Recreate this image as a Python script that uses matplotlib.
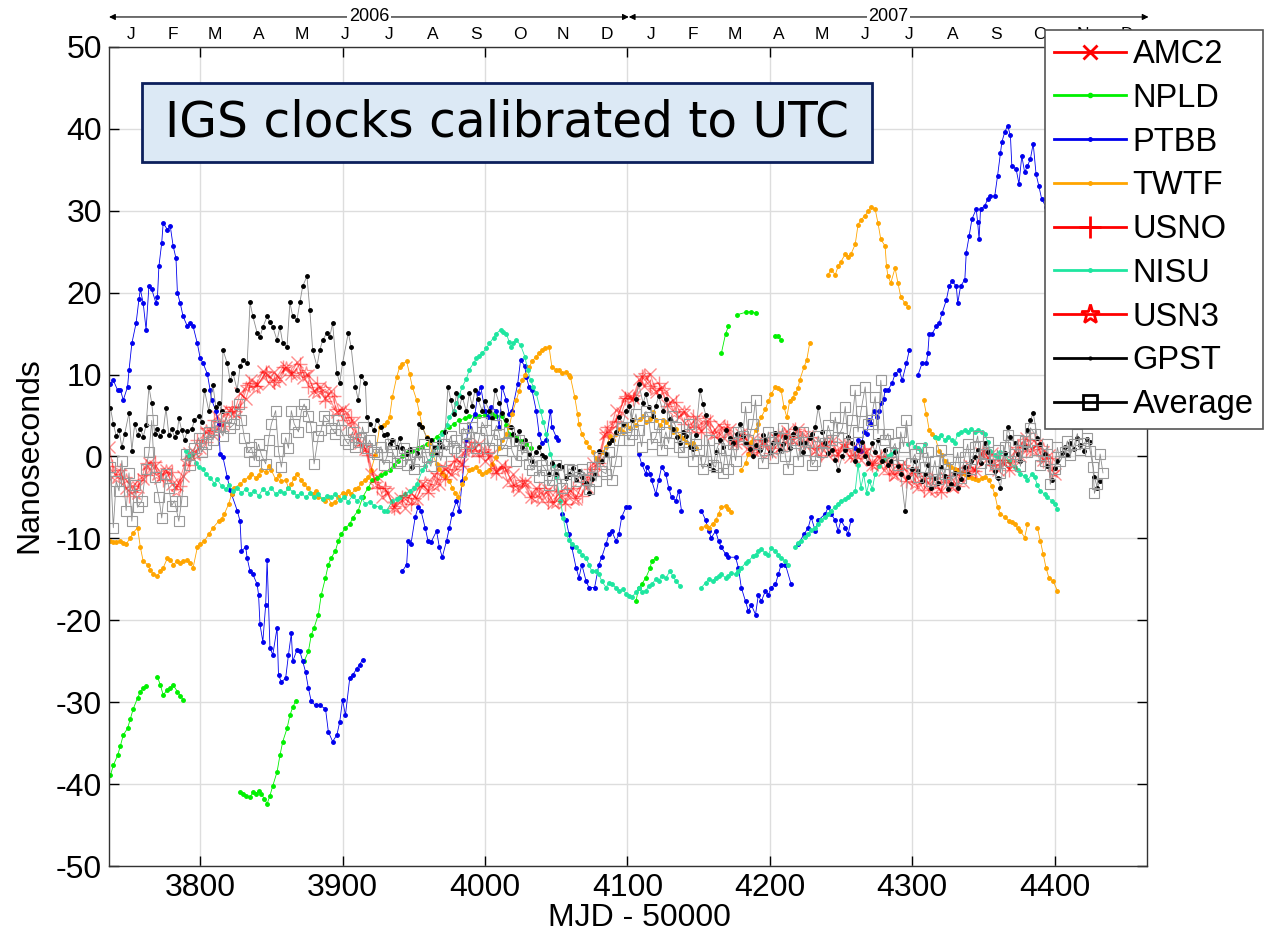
import numpy as np
import matplotlib
matplotlib.use("Agg")
import matplotlib.pyplot as plt
from matplotlib.lines import Line2D
from matplotlib.patches import Rectangle
import matplotlib.transforms as mtransforms

nan = np.nan

# ---- data (MJD - 50000, nanoseconds) ----
AMC2_DAY = list(range(3736, 4401, 4))
AMC2_NS = [1.1, -2.2, -2.2, -3.9, -3.6, -3.7, -2.8, -0.8, -1.2, -2.6, -1.6, -3.3, -3.5, -2.4, 0.4, 0.6,
           1.0, 3.0, 2.8, 4.9, 3.8, 5.5, 5.4, 7.7, 7.0, 9.3, 8.9, 10.4, 9.0, 10.3, 9.4, 10.9,
           10.1, 11.5, 9.6, 9.9, 8.0, 8.5, 7.1, 8.0, 5.4, 5.8, 4.0, 4.2, 1.7, 0.9, -2.1, -2.4,
           -4.9, -4.5, -6.2, -5.1, -6.3, -4.4, -5.2, -3.4, -4.2, -2.3, -3.3, -1.5, -2.2, -0.3, -0.9, 1.2,
           1.0, 1.5, -0.6, 0.2, -1.9, -1.1, -3.1, -2.2, -4.1, -3.1, -4.9, -3.9, -5.3, -4.1, -5.7, -4.4,
           -5.6, -4.1, -5.2, -3.4, -3.7, -0.8, -0.6, 2.7, 3.1, 5.7, 5.3, 7.5, 7.1, 9.4, 8.6, 10.1,
           7.9, 8.5, 6.3, 6.9, 4.8, 5.5, 3.5, 4.7, 3.1, 4.3, 2.8, 3.9, 2.3, 3.3, 1.6, 2.7,
           0.9, 2.1, 0.6, 1.8, 0.5, 2.3, 1.3, 3.1, 2.0, 3.3, 1.5, 2.5, 0.7, 1.7, 0.3, 1.9,
           0.3, 1.5, -0.1, 1.3, -0.4, 0.7, -1.0, 0.1, -1.7, -0.7, -2.3, -1.1, -2.9, -1.9, -3.7, -2.6,
           -4.2, -2.6, -4.2, -2.6, -3.7, -2.1, -3.1, -1.1, -1.7, 0.4, -0.4, 0.4, -1.7, -0.7, -1.5, 0.7,
           0.1, 2.2, 0.9, 1.5, -0.4, 0.2, -2.2]

USNO_DAY = list(range(3738, 4399, 6))
USNO_NS = [-1.2, -1.7, -4.8, -2.9, -2.3, -0.7, -2.9, -1.9, -3.6, -1.1, 2.0, 1.8, 4.4, 3.7, 6.1, 6.0,
           9.0, 8.6, 10.3, 9.1, 10.9, 9.9, 11.3, 8.5, 9.0, 6.8, 7.4, 4.5, 4.8, 1.4, 0.2, -3.8,
           -3.9, -6.3, -4.9, -5.8, -3.6, -4.4, -2.0, -2.8, -0.5, -1.2, 1.8, 0.0, 0.6, -2.0, -1.3, -3.6,
           -2.9, -5.0, -3.8, -5.6, -4.2, -5.8, -3.9, -4.8, -1.5, -0.8, 3.6, 4.3, 7.1, 7.0, 9.8, 8.6,
           9.0, 6.2, 6.6, 4.0, 4.9, 3.0, 4.3, 2.4, 3.6, 1.5, 2.6, 0.6, 2.0, 0.4, 2.6, 1.6,
           3.4, 1.4, 2.4, 0.2, 1.9, 0.2, 1.5, -0.2, 0.9, -1.1, 0.0, -2.2, -0.9, -3.0, -2.0, -4.1,
           -2.6, -4.3, -2.3, -3.6, -1.3, -1.8, 0.8, -1.1, -0.4, -1.6, 1.2, 0.7, 2.0, -0.5, -0.2]

USN3_DAY = list(range(3741, 4400, 7))
USN3_NS = [-2.6, -2.8, -4.6, -1.0, -2.3, -1.6, -4.2, -0.5, 0.2, 3.2, 3.0, 5.5, 5.3, 8.5, 8.4, 10.2,
           9.1, 10.9, 10.1, 10.3, 7.7, 8.2, 5.6, 5.5, 2.5, 1.0, -3.3, -3.9, -6.3, -4.9, -5.3, -3.1,
           -3.6, -1.3, -1.8, 0.7, 0.6, 0.7, -1.7, -1.4, -3.7, -3.2, -5.1, -4.1, -5.7, -4.3, -5.3, -2.8,
           -1.8, 2.7, 4.0, 7.1, 7.3, 10.0, 8.1, 8.1, 5.3, 5.5, 3.3, 4.4, 2.7, 3.7, 1.7, 2.5,
           0.7, 1.8, 0.8, 2.9, 2.0, 2.9, 0.8, 1.7, 0.5, 1.5, -0.1, 0.8, -1.1, -0.3, -2.3, -1.3,
           -3.4, -2.6, -4.1, -2.7, -3.7, -1.7, -1.9, 0.7, -1.2, -0.7, -0.9, 1.9, 0.7, 1.0, -1.9]

NPLD_DAY = [3737, 3739, 3742, 3744, 3746, 3749, 3751, 3753, 3756, 3758, 3760, 3762, 3765,
            3770, 3772, 3774, 3777, 3779, 3781, 3784, 3786, 3788, 3800,
            3828, 3830, 3832, 3835, 3837, 3839, 3841, 3843, 3845, 3847, 3849, 3851, 3854, 3856,
            3858, 3861, 3863, 3865, 3867, 3870,
            3873, 3876, 3878, 3880, 3883, 3885, 3888, 3890, 3892, 3895, 3897, 3899, 3902, 3905,
            3907, 3911, 3914, 3918, 3921, 3924, 3927, 3930, 3933, 3936, 3939, 3942, 3946, 3949,
            3953, 3956, 3959, 3963, 3966, 3970, 3975, 3978, 3982, 3986, 3989, 3993, 3996, 4000,
            4005, 4008, 4012, 4015, 4017, 4020, 4022, 4025, 4029, 4032, 4040,
            4106, 4108, 4110, 4113, 4116, 4117, 4120, 4140,
            4166, 4169, 4171, 4174, 4177, 4183, 4187, 4190, 4197, 4204, 4206, 4208]
NPLD_NS = [-38.9, -37.7, -36.5, -35.3, -34.0, -33.2, -32.0, -30.8, -29.5, -28.7, -28.3, -28.0, nan,
           -26.9, -27.9, -29.1, -28.5, -28.3, -27.9, -28.7, -29.2, -29.7, nan,
           -41.0, -41.2, -41.4, -41.6, -41.0, -41.2, -40.8, -41.2, -41.8, -42.4, -41.4, -40.2, -38.5, -36.5,
           -34.8, -33.2, -31.6, -30.6, -29.9, nan,
           -25.0, -23.8, -21.8, -20.9, -19.3, -16.9, -14.8, -13.2, -12.4, -11.5, -10.3, -9.5, -8.7, -8.3,
           -7.5, -6.6, -5.0, -3.8, -2.9, -2.6, -2.3, -2.0, -1.6, -1.0, -0.5, 0.0, 0.5, 0.7,
           1.0, 1.2, 1.5, 2.0, 2.4, 3.0, 3.6, 4.0, 4.4, 4.7, 4.9, 5.0, 4.9, 5.1,
           5.2, 5.0, 4.9, 3.8, 2.8, 2.6, 2.4, 1.9, 1.5, 1.0, nan,
           -17.7, -16.0, -15.6, -14.8, -13.6, -12.8, -12.4, nan,
           12.6, 15.0, 15.9, nan, 17.3, 17.6, 17.7, 17.5, nan, 14.7, 14.7, 14.2]

PTBB_DAY = [3737, 3739, 3742, 3744, 3746, 3749, 3750, 3752, 3755, 3757, 3758, 3760, 3762, 3764, 3766,
            3769, 3770, 3771, 3773, 3774, 3777, 3779, 3781, 3783, 3784, 3786, 3788, 3791, 3793, 3795,
            3798, 3800, 3802, 3805, 3807, 3808, 3811, 3813, 3814, 3816, 3819, 3821, 3822, 3826, 3828,
            3829, 3832, 3833, 3835, 3837, 3840, 3841, 3842, 3844, 3846, 3847, 3849, 3851, 3854, 3855,
            3857, 3860, 3862, 3864, 3865, 3868, 3870, 3872, 3874, 3876, 3878, 3881, 3884, 3888, 3890,
            3893, 3896, 3898, 3900, 3902, 3905, 3907, 3910, 3912, 3914, 3925,
            3942, 3945, 3946, 3948, 3951, 3953, 3955, 3958, 3960, 3962, 3966, 3968, 3970, 3973, 3975,
            3977, 3980, 3982, 3984, 3987, 3989, 3993, 3995, 3997, 4000, 4002, 4004, 4008, 4010, 4012,
            4015, 4017, 4019, 4023, 4025, 4028, 4029, 4031, 4033, 4036, 4038, 4040, 4043, 4046, 4047,
            4050, 4051, 4052,
            4054, 4057, 4059, 4061, 4064, 4066, 4068, 4071, 4073, 4077, 4080, 4082, 4085, 4087, 4089,
            4092, 4094, 4096, 4099, 4101, 4104,
            4108, 4110, 4113, 4114, 4116, 4117, 4120, 4122, 4124, 4127, 4129, 4131, 4134, 4136, 4138, 4145,
            4152, 4155, 4157, 4159, 4162, 4164, 4166, 4169, 4171, 4176, 4178, 4180, 4183, 4185, 4187,
            4190, 4192, 4194, 4197, 4199, 4201, 4204, 4206, 4208, 4211, 4215, 4217,
            4220, 4224, 4227, 4229, 4232, 4234, 4239, 4241, 4243, 4246, 4248, 4250, 4253, 4255, 4257, 4259,
            4260, 4262, 4264, 4266, 4268, 4270, 4271, 4273, 4275, 4277, 4278, 4280, 4281, 4283, 4286,
            4288, 4291, 4293, 4296, 4298, 4301,
            4304, 4307, 4310, 4311, 4312, 4314, 4317, 4319, 4321, 4324, 4326, 4328, 4331, 4332, 4334,
            4337, 4338, 4340, 4342, 4345, 4346, 4347, 4348, 4351, 4353, 4355, 4358, 4360, 4362, 4363,
            4365, 4367, 4369, 4370, 4373, 4375, 4377, 4379, 4381, 4383, 4385, 4387, 4389, 4391, 4394, 4397]
PTBB_NS = [8.9, 9.3, 8.1, 8.1, 6.9, 8.5, 10.5, 13.8, 16.3, 19.2, 20.4, 18.7, 15.5, 20.8, 20.4,
           18.7, 19.5, 23.2, 26.1, 28.5, 27.7, 28.1, 25.7, 24.2, 20.0, 18.7, 17.1, 15.9, 16.3, 15.9,
           13.8, 12.0, 11.4, 10.1, 8.1, 6.9, 5.6, 4.0, 0.3, -0.1, -2.5, -4.1, -4.6, -6.6, -7.9,
           -11.5, -11.1, -12.4, -14.0, -14.4, -15.6, -16.9, -20.5, -22.6, -18.1, -12.6, -23.4, -24.2, -20.9, -26.7,
           -27.5, -27.1, -24.2, -21.6, -25.0, -23.6, -23.8, -25.0, -26.3, -28.3, -29.9, -30.4, -30.4, -30.8, -33.6,
           -34.8, -34.0, -32.4, -29.7, -31.6, -27.1, -26.7, -25.9, -25.4, -24.8, nan,
           -14.0, -13.2, -10.3, -10.7, -7.4, -6.2, -6.6, -8.7, -10.3, -10.5, -9.1, -11.1, -12.3, -10.3, -8.7,
           -7.0, -5.4, -6.6, -3.0, 2.0, 3.6, 5.2, 7.7, 8.5, 5.6, 4.8, 6.0, 5.6, 3.6, 8.5,
           6.9, 5.2, 5.6, 8.9, 11.8, 11.0, 9.7, 8.5, 8.1, 5.6, 2.8, 1.6, 2.0, 5.6, 3.6,
           2.4, 2.0, nan,
           -7.0, -7.8, -9.5, -11.1, -13.6, -14.8, -13.2, -15.2, -16.0, -16.0, -13.2, -12.3, -10.7, -9.5, -9.1,
           -10.3, -9.5, -7.4, -6.2, -6.2, nan,
           0.3, -0.9, -2.1, -1.3, -2.1, -2.9, -4.6, -2.9, -1.3, -2.1, -3.8, -5.0, -5.4, -4.2, -6.6, nan,
           -6.6, -7.8, -9.1, -9.9, -9.1, -10.3, -11.1, -11.9, -12.3, -12.3, -13.6, -16.0, -17.7, -18.9, -18.1,
           -19.3, -16.9, -17.7, -16.4, -16.9, -16.0, -15.6, -14.4, -13.2, -13.2, -15.6, nan,
           -10.7, -9.5, -8.7, -7.4, -9.1, -7.8, -7.0, -6.2, -7.0, -7.8, -9.1, -7.8, -8.7, -9.5, -7.8, nan,
           1.0, 2.0, 0.7, 3.0, 2.8, 4.5, 4.0, 5.6, 4.8, 5.5, 6.5, 7.0, 8.1, 8.1, 9.0,
           10.1, 10.5, 9.3, 11.4, 13.0, nan,
           9.9, 11.4, 11.4, 12.6, 15.0, 15.0, 15.9, 16.3, 17.5, 19.1, 20.8, 21.4, 20.8, 18.7, 20.8,
           21.6, 24.9, 26.9, 29.0, 30.2, 28.6, 26.5, 30.2, 30.6, 31.4, 31.8, 31.8, 34.3, 37.1, 38.4,
           39.6, 40.4, 39.2, 35.5, 35.1, 33.3, 36.7, 34.7, 35.5, 36.3, 38.2, 34.5, 33.0, 31.4, 30.5, 29.0]

TWTF_DAY = [3737, 3739, 3741, 3744, 3746, 3748, 3751, 3753, 3756, 3758, 3760, 3763, 3765, 3767, 3770,
            3772, 3774, 3777, 3779, 3781, 3784, 3786, 3788, 3791, 3793, 3795, 3798, 3800, 3803, 3806,
            3809, 3813, 3815, 3817, 3820, 3822, 3824, 3828, 3831, 3834, 3836, 3839, 3841, 3843, 3846,
            3848, 3850, 3853, 3855, 3857, 3860, 3862, 3864, 3866, 3868, 3871, 3873, 3876, 3879, 3881,
            3883, 3886, 3888, 3890, 3892, 3895, 3897, 3900, 3902, 3904, 3906, 3909, 3911, 3913, 3916,
            3918, 3920, 3923, 3926, 3929, 3931, 3933, 3935, 3938, 3940, 3942, 3945, 3947, 3949, 3952,
            3954, 3956, 3959, 3961, 3963, 3966, 3968, 3970, 3972, 3975, 3977, 3979, 3981, 3984, 3986,
            3989, 3991, 3994, 3996, 3998, 4001, 4003, 4005, 4008, 4010, 4012, 4015, 4017, 4019, 4022,
            4024, 4026, 4028, 4031, 4033, 4036, 4038, 4040, 4042, 4045, 4047, 4050, 4052, 4054, 4057,
            4059, 4060, 4063, 4065, 4066, 4068, 4071, 4073, 4076, 4078, 4080, 4083, 4085, 4088, 4090,
            4092, 4095, 4097, 4099, 4102, 4104, 4106, 4109, 4111, 4113, 4116, 4118, 4120, 4123, 4125,
            4127, 4130, 4132, 4134, 4137, 4139, 4141, 4144, 4146, 4148, 4150,
            4152, 4155, 4157, 4160, 4162, 4164, 4166, 4169, 4171, 4173, 4176,
            4180, 4183, 4185, 4187, 4190, 4192, 4194, 4197, 4199, 4201, 4204, 4206, 4208, 4210, 4212,
            4214, 4216, 4218, 4220, 4221, 4224, 4226, 4228, 4235,
            4241, 4243, 4246, 4248, 4250, 4253, 4255, 4257, 4260, 4262, 4264, 4267, 4269, 4271, 4274,
            4276, 4278, 4281, 4282, 4283, 4285, 4288, 4290, 4292, 4295, 4297, 4302,
            4308, 4310, 4312, 4314, 4316, 4319, 4321, 4323, 4325, 4327, 4330, 4332, 4335, 4337, 4339,
            4342, 4344, 4346, 4349, 4351, 4354, 4356, 4358, 4360, 4362, 4365, 4368, 4370, 4372, 4374,
            4376, 4379, 4381, 4384, 4388, 4390, 4392, 4394, 4396, 4399, 4402]
TWTF_NS = [-10.3, -10.5, -10.4, -10.3, -10.6, -10.7, -9.9, -9.3, -8.7, -11.1, -12.8, -13.2, -13.8, -14.4, -14.6,
           -14.0, -13.6, -12.4, -12.6, -13.2, -12.8, -13.0, -12.8, -12.6, -13.0, -13.6, -11.1, -10.7, -10.3, -9.5,
           -8.7, -7.9, -7.6, -7.0, -5.8, -4.6, -3.8, -3.4, -2.9, -2.5, -2.1, -2.6, -2.3, -1.6, -1.9,
           -1.2, -1.7, -2.8, -2.3, -3.0, -2.9, -3.8, -3.4, -2.6, -2.1, -2.9, -3.4, -3.9, -4.6, -4.2,
           -5.0, -5.2, -5.4, -5.0, -5.8, -5.5, -5.0, -4.4, -4.6, -4.2, -4.6, -4.0, -3.8, -3.2, -2.9,
           -2.5, -1.7, 0.2, 3.6, 3.8, 4.2, 4.8, 7.3, 9.7, 10.9, 11.3, 11.6, 10.1, 8.5, 6.9,
           5.3, 3.6, 2.4, 1.5, 0.4, -0.9, -1.5, -2.0, -2.4, -3.0, -3.8, -4.4, -5.0, -3.4, -2.6,
           -1.7, -1.5, -1.3, -1.8, -2.1, -1.9, -1.7, -0.9, -0.1, 1.0, 2.0, 2.8, 3.6, 5.2, 6.9,
           8.0, 9.3, 10.0, 10.9, 11.6, 12.2, 12.6, 13.0, 13.2, 13.4, 10.9, 10.6, 10.5, 10.2, 10.3,
           9.9, 9.7, 7.3, 5.2, 4.0, 2.8, 1.8, 1.2, 0.5, -0.2, -0.5, 0.6, 1.2, 2.5, 2.0,
           2.8, 3.4, 3.0, 4.0, 3.5, 4.4, 3.8, 4.6, 5.0, 4.2, 4.6, 5.4, 4.5, 3.8, 4.4,
           4.2, 3.6, 3.0, 3.4, 2.5, 2.2, 1.8, 1.4, 1.6, 1.0, nan,
           -8.7, -8.5, -8.7, -8.2, -7.8, -7.0, -6.2, -6.0, -6.4, -6.8, nan,
           -1.7, -0.8, 0.3, 1.8, 3.2, 4.0, 4.8, 5.8, 6.8, 7.6, 8.5, 8.3, 8.1, 6.0, 4.8,
           6.8, 7.2, 7.7, 8.4, 9.3, 10.9, 11.8, 13.8, nan,
           22.2, 22.8, 22.2, 23.2, 23.8, 24.7, 24.4, 24.7, 25.9, 28.3, 28.9, 29.4, 30.0, 30.4, 30.2,
           28.5, 26.5, 25.7, 23.2, 22.0, 21.2, 23.0, 21.2, 19.5, 18.7, 18.3, nan,
           6.9, 5.2, 3.2, 2.8, 2.4, 0.7, 0.2, -0.5, -0.9, -1.3, -1.5, -1.7, -2.0, -2.2, -2.5,
           -2.6, -2.8, -2.9, -2.6, -2.5, -2.9, -3.6, -4.6, -6.2, -7.0, -7.4, -7.9, -8.0, -8.3, -8.7,
           -9.1, -9.9, -8.3, nan, -8.7, -10.3, -11.9, -13.6, -14.8, -15.2, -16.4]

NISU_DAY = [3790, 3792, 3794, 3797, 3799, 3802, 3804, 3807, 3810, 3812, 3815, 3818, 3820, 3823, 3826,
            3829, 3832, 3835, 3838, 3841, 3844, 3847, 3850, 3853, 3856, 3859, 3862, 3865, 3868, 3871,
            3874, 3877, 3880, 3883, 3886, 3889, 3892, 3895, 3898, 3901, 3904, 3907, 3910, 3913, 3916,
            3919, 3922, 3926, 3929, 3931, 3935, 3938, 3940, 3944, 3947, 3950, 3952, 3956, 3958, 3961,
            3963, 3966, 3968, 3970, 3973, 3975, 3978, 3980, 3982, 3984, 3987, 3989, 3992, 3994, 3996,
            3998, 4001, 4003, 4006, 4008, 4011, 4013, 4015, 4017, 4018, 4020, 4022, 4025, 4028, 4030,
            4032, 4034, 4036, 4039, 4041, 4043, 4046, 4048, 4050, 4053, 4055, 4057, 4059, 4061, 4064,
            4066, 4068, 4071, 4073, 4075, 4078, 4080, 4082, 4085, 4087, 4089, 4092, 4094, 4097, 4099,
            4101, 4103, 4106, 4108, 4110, 4113, 4115, 4117, 4120, 4122, 4124, 4127, 4130, 4132, 4134,
            4137, 4144,
            4152, 4155, 4157, 4160, 4162, 4164, 4166, 4169, 4171, 4173, 4176, 4178, 4180, 4183, 4185,
            4188, 4190, 4192, 4194, 4197, 4199, 4201, 4204, 4206, 4208, 4211, 4213, 4215,
            4218, 4220, 4222, 4225, 4227, 4229, 4232, 4234, 4236, 4239, 4241, 4243, 4246, 4248, 4250,
            4253, 4255, 4257, 4260, 4262, 4264, 4266, 4268, 4270, 4272, 4274, 4277, 4280, 4283, 4285,
            4288, 4292, 4297, 4300, 4302, 4304, 4306, 4309, 4312,
            4316, 4318, 4320, 4323, 4325, 4328, 4330, 4332, 4334, 4337, 4339, 4341, 4344, 4346, 4349,
            4351, 4353, 4355, 4358, 4360, 4362, 4365, 4368, 4372, 4374, 4376, 4379, 4381, 4384, 4386,
            4388, 4390, 4393, 4395, 4398, 4400, 4402]
NISU_NS = [0.7, 0.0, 0.3, -0.8, -1.3, -1.5, -2.2, -2.6, -3.3, -2.8, -3.6, -4.0, -3.5, -4.2, -3.8,
           -4.5, -4.0, -4.6, -4.2, -4.8, -4.0, -4.4, -3.8, -4.6, -4.2, -4.5, -3.9, -4.3, -4.8, -4.4,
           -5.0, -4.5, -4.9, -4.6, -5.2, -4.8, -5.0, -4.6, -5.3, -5.0, -5.5, -4.8, -5.4, -5.0, -5.8,
           -5.5, -6.0, -6.2, -6.6, -6.6, -5.4, -5.2, -5.0, -4.6, -4.2, -3.8, -3.4, -1.7, -1.2, -0.5,
           0.2, 1.1, 2.0, 2.8, 3.8, 4.8, 5.6, 6.5, 7.5, 8.5, 9.5, 10.6, 11.4, 12.0, 12.3,
           12.6, 13.2, 13.8, 14.5, 15.0, 15.5, 15.2, 15.0, 14.0, 13.4, 13.8, 14.2, 13.6, 12.2, 10.6,
           9.3, 8.5, 7.7, 5.6, 4.2, 2.8, 0.3, -1.0, -2.5, -5.4, -7.5, -9.5, -10.2, -10.7, -11.0,
           -11.5, -12.0, -12.4, -13.2, -14.0, -14.0, -14.4, -15.2, -16.0, -15.4, -15.6, -16.0, -16.4, -16.2, -16.8,
           -17.0, -17.2, -16.6, -16.0, -16.5, -16.4, -15.8, -15.6, -15.0, -15.2, -14.6, -14.8, -14.0, -14.6, -15.2,
           -15.8, nan,
           -16.0, -15.4, -15.0, -15.2, -14.8, -14.6, -14.4, -14.8, -14.6, -14.2, -14.4, -14.0, -13.6, -13.0, -12.8,
           -12.2, -12.0, -11.6, -11.3, -11.8, -12.0, -11.2, -11.5, -12.0, -12.4, -12.8, -13.2, nan,
           -11.1, -10.6, -10.3, -9.8, -9.5, -9.0, -8.7, -8.2, -7.8, -7.4, -7.0, -6.6, -6.2, -5.8, -5.4,
           -5.2, -5.0, -4.6, -4.2, -1.0, -3.8, -2.2, -4.4, -3.0, -4.0, -2.1, -1.2, -0.4, 0.0, 0.3,
           0.8, nan, 1.5, 1.8, 1.1, 1.0, 0.7, 1.5, nan,
           2.4, 2.2, 2.6, 2.0, 2.4, 2.0, 1.7, 2.8, 3.0, 3.2, 3.0, 3.4, 3.0, 3.2, 3.0,
           2.8, 1.8, 0.7, 0.2, -0.1, 0.5, 0.3, -0.6, -1.3, -1.6, -2.1, -2.4, -2.9, -2.2, -2.5,
           -3.5, -4.2, -4.6, -5.0, -5.4, -5.8, -6.4]

GPST_DAY = [3737, 3739, 3741, 3743, 3745, 3747, 3750, 3752, 3754, 3756, 3758, 3760, 3762, 3764, 3766,
            3768, 3770, 3772, 3774, 3776, 3778, 3780, 3782, 3784, 3785, 3787, 3789, 3791, 3794, 3796,
            3799, 3801, 3803, 3806, 3809, 3811, 3813, 3815, 3816, 3819, 3821, 3823, 3826, 3828, 3830,
            3833, 3835, 3837, 3840, 3842, 3844, 3847, 3849, 3851, 3854, 3856, 3858, 3861, 3863, 3865,
            3868, 3870, 3872, 3875, 3877, 3879, 3882, 3884, 3886, 3889, 3891, 3893, 3896, 3898, 3900,
            3904, 3906, 3909, 3911, 3913, 3916, 3917, 3919, 3922, 3924, 3927, 3929, 3931, 3933, 3935,
            3938, 3940, 3942, 3945, 3947, 3949, 3952, 3954, 3956, 3959, 3962, 3964, 3966, 3968, 3970,
            3972, 3974, 3976, 3978, 3980, 3982, 3984, 3987, 3989, 3991, 3993, 3995, 3998, 4000, 4003,
            4005, 4007, 4010, 4012, 4015, 4018, 4020, 4022, 4024, 4026, 4028, 4031, 4033, 4036, 4038,
            4040, 4042, 4045, 4047, 4050, 4052, 4054, 4057, 4059, 4062, 4064, 4066, 4068, 4071, 4073,
            4075, 4077, 4080, 4082, 4085, 4087, 4089, 4092, 4094, 4097, 4099, 4101, 4103, 4106, 4108,
            4111, 4113, 4115, 4118, 4120, 4122, 4125, 4127, 4130, 4132, 4135, 4137, 4139, 4141, 4144,
            4146, 4148, 4151, 4153, 4155, 4157, 4160, 4162, 4165, 4167, 4169, 4172, 4174, 4177, 4179,
            4181, 4183, 4186, 4188, 4190, 4193, 4195, 4197, 4200, 4202, 4204, 4207, 4209, 4211, 4214,
            4216, 4218, 4221, 4223, 4225, 4228, 4230, 4232, 4234, 4237, 4239, 4241, 4244, 4246, 4248,
            4251, 4253, 4255, 4258, 4260, 4262, 4265, 4267, 4269, 4272, 4274, 4276, 4279, 4281, 4283,
            4285, 4288, 4290, 4292, 4295, 4297, 4300, 4302, 4304, 4307, 4309, 4311, 4313, 4316, 4318,
            4320, 4323, 4325, 4327, 4330, 4332, 4334, 4337, 4339, 4341, 4344, 4346, 4348, 4351, 4353,
            4355, 4358, 4360, 4362, 4365, 4367, 4369, 4372, 4374, 4376, 4379, 4381, 4383, 4385, 4388,
            4390, 4393, 4395, 4398, 4400, 4402, 4405, 4407, 4409, 4411, 4414, 4416, 4418, 4421, 4423,
            4425, 4428, 4430, 4432]
GPST_NS = [5.9, 4.0, 2.5, 3.2, 1.1, 2.8, 5.3, 0.7, 4.0, 2.6, 3.4, 2.4, 3.8, 8.5, 6.5,
           2.8, 3.4, 2.5, 3.1, 5.9, 2.6, 3.3, 2.4, 3.0, 4.7, 3.2, 2.0, 3.1, 3.3, 4.4,
           5.0, 4.2, 8.1, 5.6, 8.7, 6.0, 6.5, 5.6, 13.0, 11.4, 9.3, 10.2, 8.1, 11.0, 11.8,
           11.4, 18.8, 17.1, 15.1, 14.6, 15.8, 17.1, 16.4, 15.8, 14.2, 15.8, 13.8, 13.4, 18.8, 17.1,
           16.7, 18.8, 20.8, 22.0, 17.9, 13.0, 11.0, 13.0, 14.2, 15.1, 14.6, 16.3, 10.2, 9.0, 11.4,
           15.1, 13.4, 8.5, 6.9, 9.8, 9.0, 4.8, 4.0, 3.2, 4.4, 3.6, 2.6, 2.8, 1.5, 2.0,
           1.2, 2.3, 1.0, 0.3, 0.9, -1.3, 0.4, 4.0, 3.6, 2.3, 2.0, 1.2, 0.3, 1.8, 1.1,
           3.0, 8.5, 6.9, 5.2, 7.7, 6.0, 7.3, 5.5, 7.7, 6.2, 8.1, 7.0, 5.6, 6.8, 5.6,
           4.7, 8.1, 6.5, 5.3, 4.4, 3.6, 2.8, 2.0, 3.1, 1.1, 2.0, 0.3, -0.5, 0.6, 1.1,
           0.2, -0.1, -2.1, -0.8, -2.1, -1.0, -1.3, -2.6, -2.1, -1.4, -2.9, -1.8, -2.5, -3.2, -4.5,
           -2.8, -2.1, 0.7, -0.5, 0.3, 1.6, 2.0, 3.0, 4.8, 4.0, 5.6, 6.2, 4.4, 7.0, 8.9,
           6.5, 7.6, 6.0, 5.0, 6.2, 7.4, 5.5, 7.0, 4.6, 3.4, 2.4, 1.7, 3.0, 2.5, 1.2,
           0.9, 2.6, 8.1, 6.4, 5.1, -1.0, -1.7, 0.5, 2.0, 1.2, 3.2, 2.2, 1.6, 2.8, 4.0,
           2.5, 1.6, 0.9, 0.0, 1.4, 0.8, 2.6, 2.0, 0.6, 1.6, 2.9, 0.8, 1.5, 2.4, 1.0,
           2.8, 3.5, 1.6, 0.6, 1.6, 2.2, 2.8, 3.6, 6.0, 3.0, 1.6, 0.4, 0.8, -0.4, -1.7,
           0.1, 0.8, 2.4, 1.6, -0.5, 0.8, 1.8, 0.0, -0.8, 1.6, 0.5, 2.0, -0.6, 0.8, -1.0,
           -0.5, 0.6, -1.2, -2.1, -6.6, -2.5, -1.5, -0.5, -1.8, -3.0, -2.1, -1.0, -3.8, -2.6, -3.2,
           -1.3, -2.4, -4.0, -3.3, -2.0, -3.8, -2.8, -1.3, -2.2, -0.6, -0.1, 0.8, -0.8, 1.6, 0.6,
           -0.5, -1.8, -2.6, -3.8, 0.4, 3.6, 2.4, 1.6, 0.3, -0.5, 1.2, 3.2, 4.4, 5.3, 2.3,
           1.5, 0.3, -1.2, -2.9, -1.4, -0.5, 0.4, 1.1, 0.2, 1.6, 0.9, 2.3, 1.4, 0.7, 2.1,
           1.8, -2.5, -3.8, -3.0]

AVG_DAY = [3737, 3739, 3741, 3743, 3745, 3748, 3750, 3752, 3754, 3756, 3759, 3762, 3764, 3766, 3768,
           3771, 3773, 3776, 3778, 3780, 3782, 3785, 3787, 3790, 3793, 3796, 3799, 3801, 3804, 3806,
           3809, 3811, 3813, 3816, 3818, 3821, 3824, 3827, 3829, 3831, 3834, 3836, 3838, 3841, 3843,
           3846, 3848, 3850, 3853, 3855, 3857, 3860, 3862, 3864, 3866, 3869, 3871, 3873, 3876, 3878,
           3880, 3883, 3885, 3887, 3890, 3892, 3895, 3897, 3899, 3902, 3904, 3907, 3909, 3911, 3913,
           3914, 3917, 3919, 3922, 3924, 3927, 3929, 3931, 3933, 3935, 3938, 3940, 3943, 3945, 3947,
           3950, 3952, 3954, 3957, 3959, 3962, 3964, 3966, 3969, 3971, 3973, 3976, 3978, 3980, 3983,
           3985, 3987, 3989, 3991, 3994, 3996, 3998, 4001, 4003, 4005, 4008, 4010, 4012, 4015, 4017,
           4019, 4022, 4024, 4026, 4029, 4031, 4033, 4036, 4038, 4040, 4043, 4045, 4047, 4050, 4052,
           4054, 4057, 4059, 4061, 4064, 4066, 4068, 4071, 4073, 4075, 4078, 4080, 4082, 4085, 4087,
           4089, 4092, 4094, 4096, 4099, 4101, 4103, 4106, 4108, 4110, 4113, 4115, 4117, 4120, 4122,
           4124, 4127, 4129, 4131, 4134, 4136, 4139, 4141, 4143, 4146, 4148, 4150, 4153, 4155, 4157,
           4160, 4162, 4164, 4167, 4169, 4171, 4174, 4176, 4178, 4181, 4183, 4185, 4188, 4190, 4192,
           4195, 4197, 4199, 4202, 4204, 4206, 4209, 4211, 4213, 4216, 4218, 4220, 4223, 4225, 4227,
           4230, 4232, 4234, 4237, 4239, 4241, 4244, 4246, 4248, 4251, 4253, 4255, 4258, 4260, 4262,
           4264, 4267, 4269, 4271, 4274, 4276, 4278, 4281, 4283, 4285, 4288, 4290, 4292, 4294, 4296,
           4299, 4302, 4304, 4306, 4309, 4311, 4313, 4316, 4318, 4320, 4323, 4325, 4327, 4330, 4332,
           4334, 4337, 4339, 4341, 4344, 4346, 4348, 4351, 4353, 4355, 4358, 4360, 4362, 4365, 4367,
           4369, 4372, 4374, 4376, 4379, 4381, 4383, 4386, 4388, 4390, 4393, 4395, 4397, 4400, 4402,
           4404, 4407, 4409, 4411, 4414, 4416, 4418, 4421, 4423, 4425, 4427, 4428, 4430, 4432, 4434]
AVG_NS = [-1.3, -8.7, -3.0, -4.2, -0.5, -6.6, -2.0, -7.9, -3.5, -6.2, -5.4, -1.5, 0.5, 4.4, -2.5,
          -5.0, -7.5, -2.2, -3.8, -6.0, -5.4, -7.9, -5.4, 0.3, -1.0, 1.0, 2.3, 0.5, 1.5, 3.0,
          2.0, 3.8, 3.6, 2.5, 4.8, 3.5, 4.0, 6.4, 4.5, 2.3, 0.5, 1.1, -0.5, 1.5, 0.2,
          -0.9, 2.0, 4.0, 5.6, 0.7, -1.3, 2.3, 1.0, 5.6, 4.0, 3.0, 5.5, 6.4, 5.0, 3.6,
          -0.9, 2.5, 3.2, 5.0, 4.4, 3.5, 2.8, 4.5, 3.2, 2.0, 1.5, 3.0, 1.1, 1.8, 2.3,
          3.6, 1.0, 2.0, 0.5, 0.3, 1.2, -1.0, -0.1, 1.5, 0.7, -0.8, -0.5, 1.0, -1.0, 0.3,
          -1.5, 0.5, -0.5, 1.5, -0.1, -1.2, 0.8, 1.1, -0.5, 1.5, 0.7, 2.5, 1.0, 2.0, 0.5,
          3.5, 2.8, 1.6, 3.6, 1.0, 2.3, 4.2, 3.2, 1.0, 2.0, 3.8, 2.8, 0.8, 1.6, 3.0,
          0.7, -0.5, 2.0, 0.2, 1.1, -0.9, -1.7, -0.5, -2.5, -1.0, -1.7, -3.5, -2.9, -1.0, -2.1,
          -3.8, -3.3, -1.5, -1.7, -3.0, -2.5, -1.5, -2.9, -4.0, -1.3, -3.0, -0.1, -1.8, -2.1, 0.5,
          -2.9, -0.5, 2.0, 3.5, 3.6, 2.0, 2.8, 5.2, 3.2, 1.2, 5.5, 4.8, 1.5, 2.4, 4.0,
          0.8, 3.0, 1.6, 5.0, 3.6, 1.2, 0.5, 2.4, 4.0, -0.5, 1.5, 0.8, -1.5, -0.5, 2.0,
          -1.0, -1.3, 1.0, -2.0, 0.8, -1.5, 1.5, -0.5, 3.0, 2.5, 6.1, 2.0, 4.0, 6.9, 1.5,
          -0.8, 0.8, 3.0, -0.2, 2.4, 1.0, 3.5, 0.0, -1.5, 2.0, 1.6, -0.5, 3.0, 0.8, 1.8,
          -1.0, -0.5, 2.5, 0.5, 1.6, 3.8, 2.0, 4.8, 2.4, 3.5, 6.1, 1.6, 4.5, 8.1, 3.0,
          5.5, 8.5, 4.0, 4.4, 7.3, 2.8, 9.3, 2.0, 2.8, 0.5, 1.6, -1.0, 3.0, 1.2, 4.4,
          -0.8, 0.3, -2.5, 1.0, -1.3, 0.5, -3.0, -0.5, -2.8, 0.8, -2.1, -0.3, -3.0, -1.3, 0.5,
          -2.6, -0.1, 1.5, -1.5, 1.1, 2.5, -0.8, 0.3, 1.8, -1.5, -0.9, 0.8, -2.0, 1.1, 2.6,
          -0.5, 0.3, 2.0, -1.2, 1.9, 0.5, 3.5, 2.8, 0.8, -1.0, -0.5, 1.5, -3.4, -1.5, 1.1,
          -0.6, 0.6, 1.9, 0.2, 1.5, 2.8, 0.8, 1.6, 2.3, 0.7, -1.3, -4.5, -3.4, 0.3, -2.0]

MONTH_LETTERS = list("JFMAMJJASOND") * 2
YEARS = ["2006", "2007"]

plt.rcParams['font.family'] = ['Liberation Sans', 'DejaVu Sans']
plt.rcParams['axes.unicode_minus'] = False

fig = plt.figure(figsize=(12.74, 9.41), dpi=100)
ax = fig.add_axes([0.0856, 0.0797, 0.8148, 0.8704])

red_kw = dict(color='red', lw=0.8, alpha=0.45)
dot_kw = dict(lw=0.6, marker='.', ms=5)

ax.plot(AMC2_DAY, AMC2_NS, marker='x', ms=8, mew=1.0, **red_kw)
ax.plot(NPLD_DAY, NPLD_NS, color='#00f000', **dot_kw)
ax.plot(PTBB_DAY, PTBB_NS, color='#0000ee', **dot_kw)
ax.plot(TWTF_DAY, TWTF_NS, color='#ffa500', **dot_kw)
ax.plot(USNO_DAY, USNO_NS, marker='+', ms=10, mew=1.0, **red_kw)
ax.plot(NISU_DAY, NISU_NS, color='#1ee6a0', **dot_kw)
ax.plot(USN3_DAY, USN3_NS, marker='*', ms=9, mew=0.9, mfc='none', **red_kw)
ax.plot(GPST_DAY, GPST_NS, color='0.55', lw=0.6, marker='.', ms=5, mfc='k', mec='k')
ax.plot(AVG_DAY, AVG_NS, color='0.55', lw=0.6, marker='s', ms=7, mfc='none', mec='0.6', mew=0.8)

ax.set_xlim(3736, 4465)
ax.set_ylim(-50, 50)
ax.set_xticks(range(3800, 4401, 100))
ax.set_yticks(range(-50, 51, 10))
ax.grid(True, color='#dddddd', lw=1)
ax.set_axisbelow(True)
ax.tick_params(direction='in', top=True, right=True, length=7, width=1,
               labelsize=23, pad=5)
for s in ax.spines.values():
    s.set_linewidth(1)
    s.set_color('#333333')

fig.text(0.023, 0.5165, "Nanoseconds", rotation=90, ha='center', va='center', fontsize=23)
fig.text(0.502, 0.0244, "MJD - 50000", ha='center', va='center', fontsize=23)

# month letters and year arrows along the top
mstart = np.arange(np.datetime64('2006-01'), np.datetime64('2008-02'), np.timedelta64(1, 'M'))
mday = mstart.astype('datetime64[D]').astype(int) - 9413
trans = mtransforms.blended_transform_factory(ax.transData, ax.transAxes)
for i, letter in enumerate(MONTH_LETTERS):
    ax.text((mday[i] + mday[i + 1]) / 2, 1.0147, letter, transform=trans, ha='center',
            va='center', fontsize=12.5, clip_on=False)
for k, yr in enumerate(YEARS):
    x0, x1 = mday[12 * k], mday[12 * k + 12]
    ax.annotate('', xy=(x1, 1.0366), xytext=(x0, 1.0366), xycoords=trans, textcoords=trans,
                arrowprops=dict(arrowstyle='<|-|>', lw=0.8, color='k', mutation_scale=9,
                                shrinkA=0, shrinkB=0), annotation_clip=False)
    ax.text((x0 + x1) / 2, 1.0366, yr, transform=trans, ha='center', va='center', fontsize=13,
            bbox=dict(facecolor='white', edgecolor='none', pad=1), clip_on=False)

# title box
fig.patches.append(Rectangle((0.1115, 0.8278), 0.573, 0.084, transform=fig.transFigure,
                             facecolor='#dce9f5', edgecolor='#0c1f5c', lw=2, zorder=5))
fig.text(0.398, 0.870, "IGS clocks calibrated to UTC", family='DejaVu Sans', fontsize=35,
         ha='center', va='center', zorder=6)

# legend
handles = [
    Line2D([], [], color='red', lw=2, marker='x', ms=10, mew=2),
    Line2D([], [], color='#00f000', lw=2, marker='.', ms=6),
    Line2D([], [], color='#0000ee', lw=2, marker='.', ms=5),
    Line2D([], [], color='#ffa500', lw=2, marker='.', ms=5),
    Line2D([], [], color='red', lw=2, marker='+', ms=16, mew=2),
    Line2D([], [], color='#1ee6a0', lw=2, marker='.', ms=5),
    Line2D([], [], color='red', lw=2, marker='*', ms=14, mew=2, mfc='none'),
    Line2D([], [], color='k', lw=2, marker='.', ms=4),
    Line2D([], [], color='k', lw=2, marker='s', ms=10, mew=2, mfc='none'),
]
labels = ["AMC2", "NPLD", "PTBB", "TWTF", "USNO", "NISU", "USN3", "GPST", "Average"]
leg = fig.legend(handles, labels, loc='upper left', bbox_to_anchor=(1045 / 1274, 1 - 30 / 941),
                 fontsize=23.5, frameon=True, fancybox=False, framealpha=1, edgecolor='#555555',
                 handlelength=2.2, handletextpad=0.2, labelspacing=0.39, borderpad=0.28,
                 borderaxespad=0)
leg.get_frame().set_linewidth(1.2)

fig.savefig("out.png", dpi=100)
